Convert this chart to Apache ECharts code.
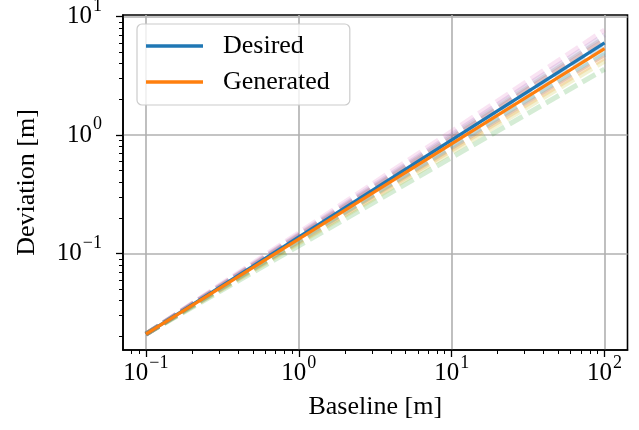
<!DOCTYPE html>
<html>
<head>
<meta charset="utf-8">
<script src="https://cdn.jsdelivr.net/npm/echarts@6/dist/echarts.min.js"></script>
<style>html,body{margin:0;padding:0;background:#fff}#c{width:639px;height:430px}</style>
</head>
<body>
<div id="c"></div>
<script>
// ---- data ----
const baseline = [0.1, 100];
const desired = [0.0209, 6.0];
const generated = [0.0209, 5.37];
const sampleNames = ['s0','s1','s2','s3','s4','s5','s6','s7','s8','s9'];
const sampleEnds = [5.8, 4.5, 3.6, 6.3, 7.0, 4.8, 7.7, 6.6, 4.2, 5.0];
const sampleStart = 0.0209;
const xMajor = [0.1, 1, 10, 100];
const yMajor = [0.1, 1, 10];
const xMinor = [0.08, 0.09, 0.2,0.3,0.4,0.5,0.6,0.7,0.8,0.9, 2,3,4,5,6,7,8,9, 20,30,40,50,60,70,80,90];
const yMinor = [0.02,0.03,0.04,0.05,0.06,0.07,0.08,0.09, 0.2,0.3,0.4,0.5,0.6,0.7,0.8,0.9, 2,3,4,5,6,7,8,9];
const palette = ['#1f77b4','#ff7f0e','#2ca02c','#d62728','#9467bd','#8c564b','#e377c2','#7f7f7f','#bcbd22','#17becf'];

const FONT = '"Liberation Serif", "Times New Roman", serif';
const xMin = Math.pow(10, -1.15), xMax = Math.pow(10, 2.15);
const yMin = Math.pow(10, -1.814), yMax = Math.pow(10, 1.013);

function expLabel(v) {
  const e = Math.round(Math.log10(v));
  const s = e < 0 ? '\u2212' + (-e) : String(e);
  return '{b|10}{s|' + s + '}';
}
const rich = {
  b: { fontFamily: FONT, fontSize: 25, lineHeight: 25, color: '#000', verticalAlign: 'bottom' },
  s: { fontFamily: FONT, fontSize: 18, lineHeight: 18, color: '#000', verticalAlign: 'bottom', padding: [0, 0, 14, 1] }
};

const series = [];
sampleEnds.forEach((end, i) => {
  series.push({
    name: sampleNames[i], type: 'line', symbol: 'none', silent: true,
    data: [[baseline[0], sampleStart], [baseline[1], end]],
    lineStyle: { color: palette[i], width: 5, opacity: 0.2, type: [15, 6] },
    itemStyle: { color: palette[i] }
  });
});
series.push({
  name: 'Desired', type: 'line', symbol: 'none',
  data: baseline.map((x, i) => [x, desired[i]]),
  lineStyle: { color: palette[0], width: 3.3 }, itemStyle: { color: palette[0] }
});
series.push({
  name: 'Generated', type: 'line', symbol: 'none',
  data: baseline.map((x, i) => [x, generated[i]]),
  lineStyle: { color: palette[1], width: 3.3 }, itemStyle: { color: palette[1] }
});

const chart = echarts.init(document.getElementById('c'), null, { renderer: 'canvas' });
chart.setOption({
  animation: false,
  backgroundColor: '#fff',
  grid: { left: 123, right: 11.5, top: 15, bottom: 80, show: true, borderColor: '#000', borderWidth: 1.6, outerBoundsMode: 'none' },
  legend: {
    data: ['Desired', 'Generated'], orient: 'vertical', left: 137, top: 24,
    icon: 'rect', itemWidth: 57, itemHeight: 3.3, itemGap: 8,
    padding: [8, 20, 9, 9],
    backgroundColor: 'rgba(255,255,255,0.8)', borderColor: '#cccccc', borderWidth: 1.2, borderRadius: 5,
    textStyle: { fontFamily: FONT, fontSize: 26, color: '#000', lineHeight: 28, padding: [0, 0, 0, 15] }
  },
  xAxis: [{
    type: 'log', min: xMin, max: xMax, logBase: 10,
    name: 'Baseline [m]', nameLocation: 'middle', nameGap: 44,
    nameTextStyle: { fontFamily: FONT, fontSize: 26, color: '#000' },
    axisLine: { show: true, lineStyle: { color: '#000', width: 1.6 } },
    axisTick: { show: true, customValues: xMajor, length: 7, lineStyle: { color: '#000', width: 1.3 } },
    axisLabel: { customValues: xMajor, formatter: expLabel, rich: rich, margin: 11 },
    splitLine: { show: true, lineStyle: { color: '#b0b0b0', width: 1.6 } }
  }, {
    type: 'log', min: xMin, max: xMax, logBase: 10, gridIndex: 0, position: 'bottom',
    axisLine: { show: false },
    axisTick: { show: true, customValues: xMinor, length: 4, lineStyle: { color: '#000', width: 1 } },
    axisLabel: { show: false }, splitLine: { show: false }
  }],
  yAxis: [{
    type: 'log', min: yMin, max: yMax, logBase: 10,
    name: 'Deviation [m]', nameLocation: 'middle', nameGap: 83, nameRotate: 90,
    nameTextStyle: { fontFamily: FONT, fontSize: 26, color: '#000' },
    axisLine: { show: true, lineStyle: { color: '#000', width: 1.6 } },
    axisTick: { show: true, customValues: yMajor, length: 7, lineStyle: { color: '#000', width: 1.3 } },
    axisLabel: { customValues: yMajor, formatter: expLabel, rich: rich, margin: 21 },
    splitLine: { show: true, lineStyle: { color: '#b0b0b0', width: 1.6 } }
  }, {
    type: 'log', min: yMin, max: yMax, logBase: 10, gridIndex: 0, position: 'left',
    axisLine: { show: false },
    axisTick: { show: true, customValues: yMinor, length: 4, lineStyle: { color: '#000', width: 1 } },
    axisLabel: { show: false }, splitLine: { show: false }
  }],
  series: series
});
</script>
</body>
</html>
